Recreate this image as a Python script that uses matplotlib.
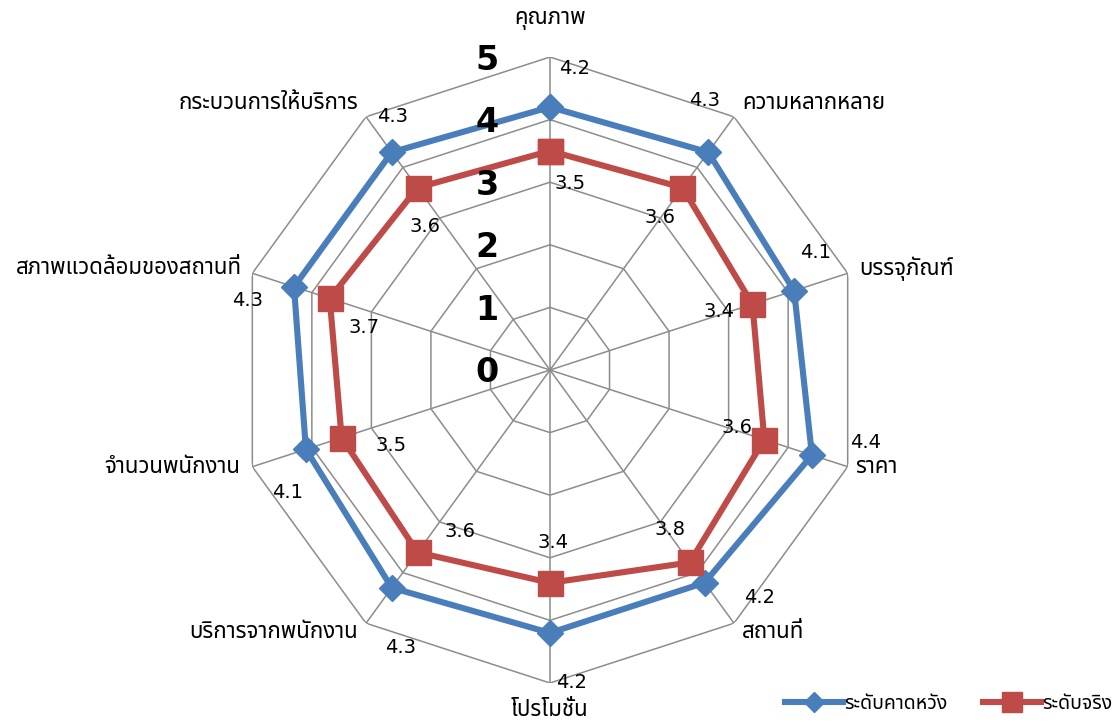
import numpy as np
import matplotlib
matplotlib.use("Agg")
import matplotlib.pyplot as plt
from matplotlib import font_manager
from matplotlib.ft2font import FT2Font
from matplotlib.lines import Line2D

# ---- data ----
categories = ["คุณภาพ", "ความหลากหลาย", "บรรจุภัณฑ์", "ราคา", "สถานที่",
              "โปรโมชั่น", "บริการจากพนักงาน", "จำนวนพนักงาน",
              "สภาพแวดล้อมของสถานที่", "กระบวนการให้บริการ"]
expected = [4.2, 4.3, 4.1, 4.4, 4.2, 4.2, 4.3, 4.1, 4.3, 4.3]
actual = [3.5, 3.6, 3.4, 3.6, 3.8, 3.4, 3.6, 3.5, 3.7, 3.6]
series_names = ["ระดับคาดหวัง", "ระดับจริง"]
radial_ticks = [0, 1, 2, 3, 4, 5]

# ---- label placement (pixel offsets from the anchor point, y downward) ----
cat_offsets = [(0, -37), (8, -13), (12, -5), (7, 1), (8, 9),
               (0, 27), (-8, 9), (-12, 1), (-10, -5), (-8, -13)]
cat_align = ["center", "left", "left", "left", "left",
             "center", "right", "right", "right", "right"]
exp_offsets = [(25, -39), (-4, -52), (21, -38), (54, -13), (55, 15),
               (22, 50), (9, 60), (-18, 43), (-46, 14), (1, -36)]
act_offsets = [(20, 33), (-22, 30), (-33, 7), (-27, -12), (-20, -33),
               (3, -40), (42, -21), (49, 8), (34, 29), (7, 39)]

BLUE = "#4A7EBB"
RED = "#BE4B48"
GRID = "#8C8C8C"


def thai_family():
    preferred = ["Noto Sans Thai", "Noto Sans Thai UI", "Loma", "Garuda",
                 "Tlwg Typo", "Umpush", "Waree", "Sarabun", "Kinnari", "Norasi"]
    found = {}
    for fe in font_manager.fontManager.ttflist:
        try:
            cmap = FT2Font(fe.fname).get_charmap()
        except Exception:
            continue
        if 0x0E01 in cmap:
            found.setdefault(fe.name, fe.fname)
    for name in preferred:
        if name in found:
            return name
    return next(iter(found), None)


tf = thai_family()
text_family = [tf, "DejaVu Sans"] if tf else ["DejaVu Sans"]
num_family = ["DejaVu Sans"]
plt.rcParams["font.family"] = text_family

W, H = 1114, 724
fig = plt.figure(figsize=(W / 100, H / 100), dpi=100)
cx, cy, R = 550, 370, 313
ax = fig.add_axes([(cx - R) / W, (H - cy - R) / H, 2 * R / W, 2 * R / H],
                  projection="polar")
ax.set_theta_zero_location("N")
ax.set_theta_direction(-1)
ax.set_ylim(0, 5)
ax.set_xticks([])
ax.set_yticks([])
ax.grid(False)
ax.spines["polar"].set_visible(False)
ax.patch.set_visible(False)

n = len(categories)
theta = np.arange(n) * 2 * np.pi / n
theta_c = np.append(theta, theta[0])

# polygon grid and spokes
for k in radial_ticks[1:]:
    ax.plot(theta_c, [k] * (n + 1), color=GRID, lw=1.1, zorder=1)
for t in theta:
    ax.plot([t, t], [0, radial_ticks[-1]], color=GRID, lw=1.1, zorder=1)

ax.plot(theta_c, expected + expected[:1], color=BLUE, lw=4.4,
        marker="D", ms=13, mfc=BLUE, mec=BLUE, zorder=3, clip_on=False)
ax.plot(theta_c, actual + actual[:1], color=RED, lw=4.4,
        marker="s", ms=18, mfc=RED, mec=RED, zorder=4, clip_on=False)

px = 0.72  # pixels -> points at 100 dpi

for k in radial_ticks:
    ax.annotate(str(k), xy=(0, k), xytext=(-63 * px, -3 * px),
                textcoords="offset points", ha="center", va="center",
                fontsize=24, fontweight="bold", family=num_family,
                annotation_clip=False, zorder=5)

for i, t in enumerate(theta):
    dx, dy = cat_offsets[i]
    ax.annotate(categories[i], xy=(t, radial_ticks[-1]),
                xytext=(dx * px, -dy * px), textcoords="offset points",
                ha=cat_align[i], va="center", fontsize=16,
                annotation_clip=False)
    dx, dy = exp_offsets[i]
    ax.annotate(f"{expected[i]:.1f}", xy=(t, expected[i]),
                xytext=(dx * px, -dy * px), textcoords="offset points",
                ha="center", va="center", fontsize=14, family=num_family,
                annotation_clip=False, zorder=6)
    dx, dy = act_offsets[i]
    ax.annotate(f"{actual[i]:.1f}", xy=(t, actual[i]),
                xytext=(dx * px, -dy * px), textcoords="offset points",
                ha="center", va="center", fontsize=14, family=num_family,
                annotation_clip=False, zorder=6)

handles = [
    Line2D([], [], color=BLUE, lw=4.4, marker="D", ms=10, mfc=BLUE, mec=BLUE),
    Line2D([], [], color=RED, lw=4.4, marker="s", ms=14, mfc=RED, mec=RED),
]
fig.legend(handles, series_names, loc="center left",
           bbox_to_anchor=(785 / W, 1 - 704 / H), ncol=2, frameon=False,
           fontsize=14, handlelength=3.0, handletextpad=0.05,
           columnspacing=1.8, borderpad=0, borderaxespad=0)

fig.savefig("out.png", dpi=100)
